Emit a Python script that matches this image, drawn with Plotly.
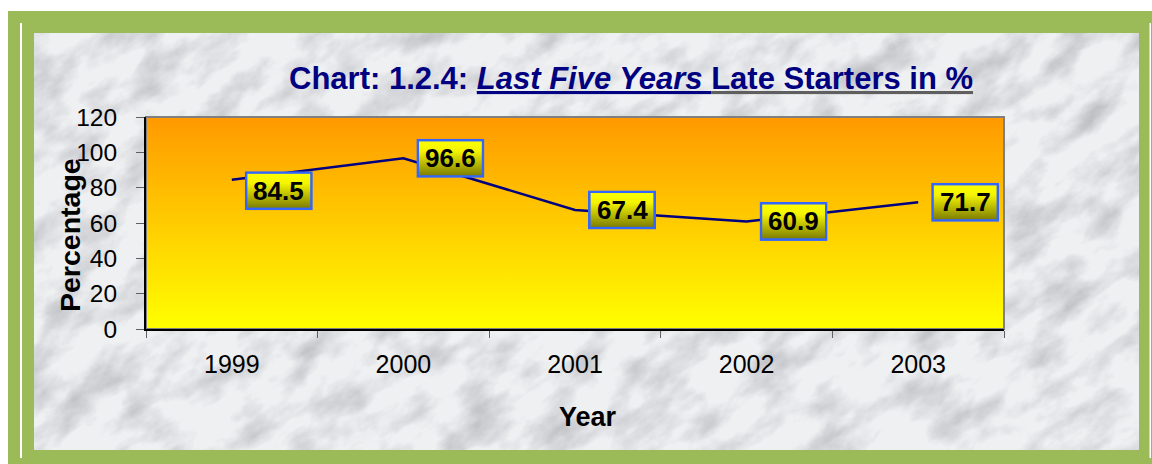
import base64
import plotly.graph_objects as go

years = ["1999", "2000", "2001", "2002", "2003"]
late_starters = [84.5, 96.6, 67.4, 60.9, 71.7]
label_drop_px = [11, 0, 0, 0, 0]   # Excel nudged the first label down a bit

W, H = 1152, 464
L, R, T, B = 146, 148, 117, 135
PW, PH = W - L - R, H - T - B
CAT_PX = PW / len(years)
UNIT_PX = PH / 120.0
FONT = "Arial, Liberation Sans, sans-serif"


def px(x):
    return (x - L) / PW


def py(y):
    return (H - B - y) / PH


def svg_uri(svg):
    return "data:image/svg+xml;base64," + base64.b64encode(svg.encode()).decode()


marble = svg_uri(
    '<svg xmlns="http://www.w3.org/2000/svg" width="1105" height="417" viewBox="0 0 1105 417" preserveAspectRatio="none">'
    '<defs><filter id="f" x="0" y="0" width="100%" height="100%">'
    '<feTurbulence type="fractalNoise" baseFrequency="0.018 0.032" numOctaves="5" seed="11"/>'
    '<feColorMatrix type="matrix" values="0 0 0 0 0.40 0 0 0 0 0.41 0 0 0 0 0.44 1.5 0 0 0 -0.62"/>'
    '</filter></defs>'
    '<rect width="1105" height="417" fill="#eff0f2"/>'
    '<g transform="rotate(-35 552 208)"><rect x="-400" y="-500" width="1900" height="1400" filter="url(#f)"/></g>'
    '</svg>'
)

plot_grad = svg_uri(
    '<svg xmlns="http://www.w3.org/2000/svg" width="100" height="100" viewBox="0 0 100 100" preserveAspectRatio="none">'
    '<defs><linearGradient id="g" x1="0" y1="0" x2="0" y2="1">'
    '<stop offset="0" stop-color="#ff9900"/><stop offset="1" stop-color="#ffff00"/>'
    '</linearGradient></defs><rect width="100" height="100" fill="url(#g)"/></svg>'
)

BOX_W, BOX_H, BOX_GAP = 68, 39, 13
box_img = svg_uri(
    f'<svg xmlns="http://www.w3.org/2000/svg" width="{BOX_W}" height="{BOX_H}" viewBox="0 0 {BOX_W} {BOX_H}" preserveAspectRatio="none">'
    '<defs><linearGradient id="g" x1="0" y1="0" x2="0" y2="1">'
    '<stop offset="0" stop-color="#ffff00"/><stop offset="0.3" stop-color="#f4f400"/><stop offset="1" stop-color="#7a7a00"/>'
    f'</linearGradient></defs><rect x="1.3" y="1.3" width="{BOX_W - 2.6}" height="{BOX_H - 2.6}" '
    'fill="url(#g)" stroke="#3366ff" stroke-width="2.6"/></svg>'
)

fig = go.Figure()
fig.add_trace(go.Scatter(
    x=years, y=late_starters, mode="lines",
    line=dict(color="#000080", width=2.5),
    hoverinfo="skip", showlegend=False,
))

images = [
    dict(source=marble, xref="paper", yref="paper", x=px(34), y=py(33),
         sizex=px(1139) - px(34), sizey=py(33) - py(450),
         xanchor="left", yanchor="top", sizing="stretch", layer="below"),
    dict(source=plot_grad, xref="paper", yref="paper", x=0, y=1, sizex=1, sizey=1,
         xanchor="left", yanchor="top", sizing="stretch", layer="below"),
]
annotations = []
for i, (v, drop) in enumerate(zip(late_starters, label_drop_px)):
    images.append(dict(
        source=box_img, xref="x", yref="y",
        x=i + BOX_GAP / CAT_PX, y=v - drop / UNIT_PX,
        sizex=BOX_W / CAT_PX, sizey=BOX_H / UNIT_PX,
        xanchor="left", yanchor="middle", sizing="stretch", layer="above",
    ))
    annotations.append(dict(
        x=i, y=v, xref="x", yref="y", text=f"<b>{v}</b>", showarrow=False,
        xshift=BOX_GAP + BOX_W / 2, yshift=-drop,
        xanchor="center", yanchor="middle",
        font=dict(family=FONT, size=26, color="black"),
    ))

annotations += [
    dict(text="<b>Chart: 1.2.4: <i><u>Last Five Years </u></i>"
              "<span style='color:#5f5f5f'><u><span style='color:#000080'>Late Starters in %</span></u></span></b>",
         xref="paper", yref="paper", x=px(631), y=py(79), xanchor="center", yanchor="middle",
         showarrow=False, font=dict(family=FONT, size=31, color="#000080")),
    dict(text="<b>Percentage</b>", textangle=-90, xref="paper", yref="paper",
         x=px(70), y=py(235), xanchor="center", yanchor="middle",
         showarrow=False, font=dict(family=FONT, size=28.5, color="black")),
    dict(text="<b>Year</b>", xref="paper", yref="paper",
         x=px(588), y=py(417), xanchor="center", yanchor="middle",
         showarrow=False, font=dict(family=FONT, size=27, color="black")),
]

white = "white"
green = "#9bbb59"
shapes = [
    dict(type="rect", xref="paper", yref="paper", x0=px(0), x1=px(W), y0=py(0), y1=py(11),
         fillcolor=white, line_width=0, layer="below"),
    dict(type="rect", xref="paper", yref="paper", x0=px(0), x1=px(8), y0=py(0), y1=py(H),
         fillcolor=white, line_width=0, layer="below"),
    dict(type="rect", xref="paper", yref="paper", x0=px(20), x1=px(22), y0=py(23), y1=py(458),
         fillcolor=white, line_width=0, layer="below"),
    dict(type="rect", xref="paper", yref="paper", x0=px(1149.5), x1=px(1151), y0=py(23), y1=py(458),
         fillcolor=white, line_width=0, layer="below"),
    dict(type="rect", xref="paper", yref="paper", x0=0, x1=1, y0=0, y1=1,
         line=dict(color="#808080", width=2), layer="below"),
]

fig.update_layout(
    width=W, height=H,
    margin=dict(l=L, r=R, t=T, b=B, pad=0),
    paper_bgcolor=green,
    plot_bgcolor="rgba(0,0,0,0)",
    font=dict(family=FONT, color="black"),
    images=images, annotations=annotations, shapes=shapes,
    showlegend=False,
    xaxis=dict(
        type="category", range=[-0.5, 4.5], tickson="boundaries",
        ticks="outside", ticklen=7, tickcolor="#606060", tickwidth=1,
        showline=True, linecolor="black", linewidth=2, showgrid=False,
        tickfont=dict(size=25), ticklabelstandoff=12, fixedrange=True,
    ),
    yaxis=dict(
        range=[0, 120], dtick=20, ticks="outside", ticklen=8,
        tickcolor="#606060", tickwidth=1,
        showline=True, linecolor="black", linewidth=2, showgrid=False, zeroline=False,
        tickfont=dict(size=24.5), ticklabelstandoff=14, fixedrange=True,
    ),
)

# the browser's default 8px body margin would push the 1152x464 figure off the page
fig.write_html("out.html", config={"displayModeBar": False},
               post_script="document.body.style.margin='0';")
